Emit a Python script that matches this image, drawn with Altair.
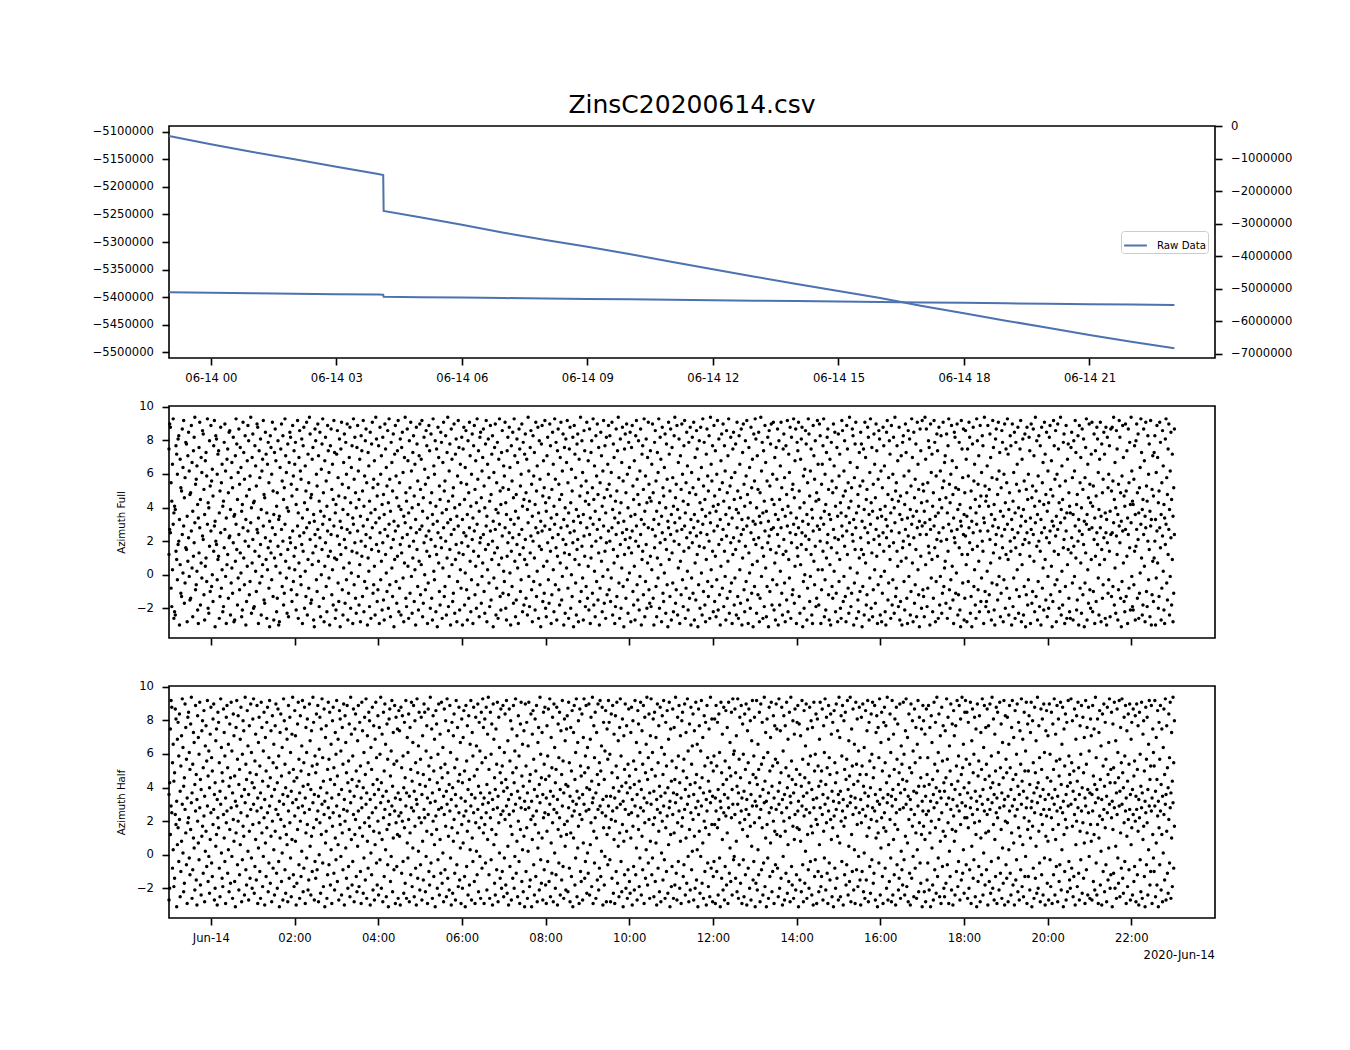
import math
import altair as alt
import pandas as pd

TITLE = "ZinsC20200614.csv"
SERIES = ["Raw Data"]
OFFSET_LABEL = ["2020-Jun-14"]

# Raw data line (hours relative to 2020-06-14 00:00)
LINE_HOURS = [-1, 0, 1, 2, 3, 4, 4.12, 4.13, 5, 6, 7, 8, 9, 10, 11, 12, 13, 14,
              15, 16, 17, 18, 19, 20, 21, 22, 23.03]
LINE_VALUES = [-5107300, -5122400, -5136400, -5149700, -5163000, -5176400, -5178200,
               -5243600, -5255000, -5268500, -5283000, -5296400, -5308500, -5321800,
               -5335800, -5349700, -5363000, -5376400, -5389000, -5401800, -5416400,
               -5429700, -5443000, -5455800, -5469100, -5481300, -5493300]

TOP_TICKS = [0, 3, 6, 9, 12, 15, 18, 21]
BOTTOM_TICKS = [0, 2, 4, 6, 8, 10, 12, 14, 16, 18, 20, 22]
LEFT_TICKS = [-5500000, -5450000, -5400000, -5350000, -5300000, -5250000, -5200000,
              -5150000, -5100000]
RIGHT_TICKS = [0, -1000000, -2000000, -3000000, -4000000, -5000000, -6000000, -7000000]
AZ_TICKS = [-2, 0, 2, 4, 6, 8, 10]

# Azimuth samples in tenths of a radian (-pi..pi), one per minute from 23:00;
# each one is drawn at its angle and again one turn (2*pi) higher.
AZ_FULL_TENTHS = [
12,27,25,-8,-19,3,30,-26,-22,-24,14,9,-3,18,20,-30,6,-11,-13,24,1,29,-17,-5,16,15,-28,8,22,-1,
-15,-14,26,4,-25,11,19,31,-9,-6,2,-21,-29,13,28,-18,7,-2,23,21,-12,-27,5,10,-4,30,-20,-23,17,-10,
26,-7,0,-16,14,29,-31,20,18,-3,9,11,-26,-13,25,-8,3,-22,-19,16,27,-1,-29,6,12,-14,22,23,-24,-5,
4,-11,19,-28,-27,8,30,15,-18,-2,24,-9,13,1,-25,-21,28,10,-6,20,-30,-16,5,26,17,-12,-4,31,-23,7,
21,-20,-19,14,2,-10,27,25,-29,11,-5,18,-24,-1,6,29,-15,-17,22,9,-26,3,16,-8,-31,20,13,-3,28,-13,
-27,10,24,5,-22,-14,17,-30,-28,1,12,27,-7,20,-18,-11,30,8,-2,-23,15,-25,4,22,19,-9,-16,26,-4,11,
3,16,-21,-12,29,-26,7,23,-1,-6,18,-29,14,25,-20,2,-13,28,-24,9,-8,31,21,-17,-15,6,13,-27,-31,24,
17,-3,-10,27,8,-19,22,-25,0,15,30,-14,-28,5,19,-7,-22,26,11,-2,-30,14,24,-12,3,-18,29,10,-26,-21,
9,23,-5,-16,18,-31,12,28,-9,-24,4,21,-17,16,-3,27,-27,-11,7,25,-20,1,14,-29,30,-6,19,-14,-23,13,
26,-1,-18,6,-28,20,11,-13,29,-22,-4,17,24,-8,-30,10,2,-19,22,-26,15,28,-11,-6,5,-24,31,18,-16,-9,
14,-29,25,-3,8,-21,19,-15,-27,27,12,1,-10,23,-20,30,-6,-25,16,4,-13,21,-31,9,26,-4,-17,11,29,-22,
-8,18,-24,13,22,-2,-28,7,31,-14,-19,24,5,-26,17,-11,28,-1,-23,10,20,-16,3,-30,25,15,-7,-21,8,27,
-12,6,29,-25,-17,19,0,-9,23,14,-29,-5,26,11,-20,21,-14,-27,30,2,-3,17,-22,12,-31,25,7,-10,-18,22,
16,-26,4,28,-13,-7,20,-24,10,31,-19,-1,15,-30,24,6,-16,-11,27,-23,9,18,-28,-4,29,13,-21,3,-8,19,
-30,12,25,-18,1,23,-9,-27,17,-14,28,8,-22,-3,21,-29,14,26,-12,5,-20,30,-6,11,-25,19,22,-17,-1,7,
24,-10,-23,15,29,-28,3,18,-5,-19,26,-15,9,20,-31,-2,13,27,-24,-8,16,-26,6,30,-13,-21,10,23,-11,2,
-4,28,-20,-27,11,19,-12,25,1,-30,14,-7,22,-17,30,8,-25,-15,18,4,-29,24,12,-10,-3,27,-22,16,-18,9,
21,-14,6,-24,31,-1,-19,13,23,-9,-28,20,-4,10,-21,28,-13,2,25,-26,17,-6,-31,15,26,-16,5,-11,29,-20,
-25,8,19,-3,-17,27,14,-29,-12,22,3,-22,30,-6,16,-27,11,24,-9,-18,7,28,-15,-1,21,-30,13,-23,18,4,
29,-8,-26,12,25,-20,0,-13,19,-31,26,9,-5,-24,15,21,-28,6,-16,31,-10,17,-2,-27,23,11,-19,-7,28,-14,
5,-21,24,-29,10,17,-11,30,-18,2,-25,20,-4,27,-15,13,-30,-8,22,8,-22,-1,29,-17,14,-26,19,-12,3,26,
-9,20,-16,-2,28,-24,15,7,-29,-19,24,-13,11,31,-5,-26,18,-20,4,25,-7,-31,12,21,-14,27,-3,-23,16,1,
22,-28,13,26,-10,-18,5,-27,20,29,-6,-15,17,-21,-1,24,-30,9,14,-12,30,-25,-4,18,-20,7,28,-9,-17,11,
-19,3,27,-14,-30,16,23,-7,-25,10,-2,30,-20,19,6,-28,25,-11,-16,1,21,-23,15,-6,-31,28,9,-13,24,-27,
13,-5,-22,20,31,-17,-9,26,-24,4,18,-29,8,-12,27,-3,-19,14,29,-26,-8,22,2,-21,16,-14,25,-30,-2,19,
-11,28,-27,7,-15,23,12,-31,-6,17,-20,25,1,-24,30,-10,16,-18,-28,9,24,-4,-13,20,-26,31,3,-7,14,-22,
26,-16,11,-25,-3,29,-21,18,-12,-30,5,21,-8,27,-19,14,-1,-27,23,-14,8,30,-23,-10,19,-5,-29,12,22,-18,
-2,15,-24,28,-13,-26,20,3,-17,24,-30,10,27,-9,-22,17,-4,29,-15,-29,13,1,-20,25,-11,6,-31,21,-7,30,
18,-23,8,-12,22,-28,-14,31,-1,16,-26,11,-19,26,4,-25,-7,19,-31,23,-10,15,27,-18,-3,28,-21,7,-27,13,
-6,24,-30,17,-18,2,28,-11,-24,12,21,-5,-28,14,-15,29,-22,9,-2,25,-26,19,-12,-9,30,-17,5,24,-29,16,
11,28,-13,-23,6,18,25,-31,-4,-20,0,23,15,-27,-8,30,21,-16,-1,12,-24,-29,26,8,-6,17,-19,-14,29,3,
-18,27,20,-29,-9,3,14,30,-25,-3,-21,10,19,24,-12,-27,6,-30,16,-7,-14,27,2,22,-22,-11,13,-28,21,-4,
9,-20,-26,29,23,-16,-1,17,-13,-28,26,12,-8,-23,31,4,-19,-11,24,20,-30,-5,15,28,-26,1,-15,-22,10,-10,
22,15,-31,-7,12,-24,28,7,-18,-12,25,19,-27,-2,30,-20,13,-25,-9,21,3,-17,27,11,-29,-6,23,18,-24,-1,
-28,-11,25,14,2,-22,-30,22,29,-15,-5,17,9,-26,26,-18,-3,19,-23,31,-13,-8,14,5,-19,25,-27,-16,8,-30,
16,20,-4,-21,27,10,-14,-29,23,-1,18,-24,-10,30,7,-28,22,-17,-6,15,-25,28,3,-12,-31,24,11,-20,29,-9,
-13,-25,31,6,24,-19,-8,17,13,-30,27,-2,9,-22,-14,29,16,-28,-4,21,11,-26,25,-18,-1,20,-23,-11,28,-7,
4,8,-17,21,-26,14,30,-9,-20,-3,26,5,-15,-29,22,19,-11,1,27,-24,-12,16,-21,-31,29,12,-5,24,-27,-14,
23,6,-28,12,-4,28,19,-23,-13,-31,15,25,-7,3,-18,-26,30,17,-9,8,-22,26,-16,-2,20,14,-29,31,-10,-19,
-16,2,26,-22,-12,21,7,-27,-5,29,13,-21,-30,18,24,-6,-15,28,-1,10,-25,-11,23,16,-28,-3,27,-20,12,-8,
30,9,-24,-14,20,14,-30,27,-19,-2,22,-26,16,-9,3,25,-23,-13,12,29,-28,6,18,-24,-7,21,-31,-12,25,-18,
-3,19,11,-29,27,-17,-10,24,8,-22,31,-13,17,-27,-4,20,-19,14,-30,25,-8,4,-21,28,9,-15,22,-25,-1,-20,
19,26,-12,5,-31,-16,29,14,-6,23,-28,-3,27,12,-20,-10,31,-24,2,-18,16,21,-29,-7,26,-26,6,15,-14,-22,
-26,13,22,-5,-27,17,-1,29,10,-21,-15,20,-30,26,-8,7,-23,24,-12,18,-31,-5,13,30,-27,3,-17,27,-9,-20,
9,28,-22,-10,21,-29,11,-16,25,18,-2,-24,6,28,-28,15,-14,-6,22,9,-26,25,-30,19,-11,-3,14,-25,24,-13,
25,-7,31,-18,4,-23,23,12,-27,-9,29,19,-14,-31,-4,26,7,-16,-22,27,-13,11,-29,24,-8,16,-21,31,-1,-19,
-21,-6,14,-27,17,27,-14,21,-26,-11,1,30,10,-24,-18,24,5,-28,28,-10,-19,20,-3,15,-25,29,-30,-12,8,-16,
10,20,-30,-2,26,7,-20,-13,28,16,-27,-8,23,2,-21,-29,18,30,-5,-15,12,27,-24,-1,22,-18,9,-28,-11,24,
]

AZ_HALF_TENTHS = [
-27,-20,12,29,25,-8,3,-19,-14,24,18,-31,6,16,-4,21,-25,-10,8,30,1,-22,-17,27,13,-6,-29,19,22,-2,
-12,15,31,-26,-9,10,4,-21,26,-15,-30,20,7,-3,28,-18,-24,11,17,-11,23,-28,2,14,-7,29,-16,-1,-23,9,
25,-5,-13,18,27,-27,-20,5,12,-30,22,16,-8,-25,30,1,-14,-19,24,10,-4,-29,19,26,-11,3,-22,15,-17,28,
-1,-26,21,8,-16,-31,13,29,-6,20,-21,-12,6,25,-28,-3,17,11,-24,31,-9,-18,23,2,-27,14,-14,27,-2,-20,
18,30,-23,-7,9,-15,26,-29,4,19,-10,-26,28,13,-19,-1,22,-30,7,-13,16,25,-22,-5,29,-17,11,-28,20,-8,
3,-24,14,27,-11,-20,24,-4,-31,10,21,-16,1,-27,30,17,-9,-23,12,6,-28,26,-14,19,-2,-25,9,31,-12,-19,
23,8,-30,-17,15,28,-6,-26,20,-13,2,29,-22,-8,25,-29,13,-2,18,-21,-15,27,5,-24,11,-10,31,16,-27,-4,
-14,21,-9,26,-28,0,19,-23,12,30,-5,-19,24,-31,7,14,-26,-12,28,-6,22,-18,3,-29,17,25,-11,-21,10,-3,
29,-16,6,-27,23,18,-1,-24,13,-9,27,-30,20,4,-14,26,-20,-7,15,-25,31,9,-18,-4,24,-28,12,21,-13,-22,
5,26,-19,16,-10,-29,28,11,-23,-2,19,-15,30,-26,8,-8,22,17,-30,1,-12,25,-21,14,-27,6,28,-5,-18,20,
-24,13,-3,31,-20,9,-28,22,-13,27,3,-25,15,-6,-31,18,24,-16,-1,29,-22,10,-9,26,-29,19,-7,12,-26,23,
11,-30,25,-11,20,-4,-23,16,-17,29,-26,7,-2,21,-28,13,-12,28,-19,4,26,-25,17,-8,-30,30,-14,2,22,-21,
-6,19,-27,8,-15,27,22,-22,-1,14,-29,24,-10,-18,31,-5,12,-26,20,-13,6,-31,23,15,-20,-3,27,-24,9,-11,
28,-17,1,-28,24,-9,17,-25,30,-14,11,-21,26,-2,-30,16,-23,8,21,-11,-27,29,-6,13,-19,25,-15,4,-29,18,
-20,7,23,-13,-31,26,-7,14,-24,20,-18,3,29,-27,10,-4,25,-16,-29,19,2,-12,27,-22,16,-1,-26,22,-8,30,
13,-29,18,-5,25,-21,9,31,-12,-26,22,-3,15,-30,27,6,-17,-24,12,-9,28,-28,19,1,-14,24,-20,-10,26,-25,
-2,21,-18,29,-23,5,-30,24,-7,17,-27,12,-14,26,-20,-1,30,-11,8,-25,20,-4,-29,15,28,-16,3,-22,11,-31,
27,-10,16,-26,2,28,-19,-15,21,-31,9,23,-6,-24,18,-13,26,-28,4,13,-21,31,-3,-17,10,-27,22,-9,25,-18,
-29,14,-4,24,-16,30,-25,7,-11,19,-28,27,1,-20,-12,25,-30,15,-5,22,-24,11,-15,29,-7,-26,18,5,-21,12,
20,-22,28,-8,-28,13,-13,23,-31,10,26,-18,-2,30,-25,4,17,-29,24,-10,-16,21,-27,7,30,-14,-4,26,-23,1,
-11,27,-24,6,19,-19,31,-29,14,-5,22,-26,10,-15,27,-21,-8,29,-13,2,25,-30,16,-18,-1,23,-28,12,-6,29,
16,-3,-28,21,-14,26,-23,9,-29,20,-10,28,-17,5,-25,13,30,-4,-22,18,-31,8,-12,27,-20,14,-26,-9,24,-16,
-23,10,25,-30,17,-7,-21,29,-12,4,-27,23,15,-19,-2,28,-24,11,-9,26,-29,19,-14,3,31,-18,-5,21,-26,8,
30,-12,-2,18,-25,22,-16,7,-30,27,-8,14,-22,25,-28,1,20,-15,29,-3,-26,16,-10,23,-23,6,28,-31,12,-19,
-7,24,-26,13,-18,31,-11,-27,19,-4,26,-20,8,-29,17,22,-13,-6,27,-24,10,-17,30,-1,-28,15,-21,25,-9,2,
21,-27,11,-20,28,-15,3,-31,24,14,-23,-1,29,-17,7,-26,20,-10,16,-30,26,-5,-19,12,-25,31,-8,18,-28,-13,
-4,18,-29,26,-10,16,-24,21,-2,-31,28,-14,9,-21,25,-27,-7,23,-18,13,-29,28,-11,4,-16,22,-24,30,-3,-1,
24,-14,8,-22,30,-26,-6,19,-17,26,-29,15,-3,-25,21,-12,27,-30,11,-8,24,-20,17,-27,5,29,-15,-4,19,-31,
-17,29,-21,3,-12,22,-28,27,-9,16,-24,-5,31,-19,10,-31,18,-2,-26,25,-13,7,28,-22,-10,20,-29,14,-6,27,
12,-8,-25,30,-20,11,-14,25,-30,-1,20,-27,14,-11,28,-23,6,-16,22,-28,31,-7,-18,17,-26,9,24,-21,-12,16,
26,-31,15,-15,8,-22,29,-6,-28,23,-17,2,27,-26,12,-9,-20,25,-4,17,-24,13,-30,28,-13,-3,21,-29,18,-10,
-22,6,28,-19,-13,24,-27,14,-2,30,-21,19,-11,-29,26,-5,-15,21,9,-25,16,-31,23,-8,-20,27,-14,11,-27,31,
7,-25,20,-4,26,-30,17,-12,22,-18,-6,29,-24,5,-16,31,-28,12,-10,24,-21,3,-29,28,-9,18,-19,-1,25,-15,
-30,19,-10,27,-22,1,-26,23,-15,11,29,-28,16,-7,-23,21,-3,28,-17,-11,26,-27,10,20,-31,13,-5,30,-24,4,
22,-13,-29,16,25,-8,14,-20,31,-27,6,-16,21,-2,-28,29,-24,9,-12,18,-30,25,-6,15,-21,-14,27,-26,2,-9,
-18,28,-3,-24,11,30,-19,7,-28,21,-11,-30,27,-14,17,-1,-25,24,-8,13,-26,3,29,-22,19,-5,-17,12,-31,26,
17,-22,9,-28,24,-15,-5,26,-21,13,-31,20,4,-18,-27,28,-9,16,-23,31,-13,-2,21,-25,8,-29,25,-7,14,-20,
-25,11,-17,30,-6,19,-29,2,-13,27,-21,15,-30,23,8,-24,14,-10,29,-19,-4,26,-27,18,-15,31,-11,3,-23,22,
29,-6,22,-26,16,-20,-9,28,-29,5,24,-14,-3,19,-25,12,-31,27,-16,-7,20,-28,10,-12,30,-24,1,26,-18,13,
-9,24,-30,14,-16,27,-23,-4,31,-20,18,-27,9,-13,25,-29,22,-2,-21,28,-11,15,-26,4,-17,29,-30,20,-6,-14,
19,-28,3,26,-11,-24,13,29,-18,7,-30,23,-15,-3,27,-22,16,-27,11,-9,30,-19,6,-25,22,-13,-1,28,-29,15,
-13,20,-21,10,28,-31,17,-8,-26,25,-14,5,-23,31,-20,14,-5,-28,24,-12,18,-24,27,-2,-30,11,23,-17,8,-27,
27,-3,-19,22,-29,15,-12,30,-24,9,-7,26,-28,18,-16,-6,28,-21,3,25,-31,12,-10,21,-27,16,-22,29,-4,-15,
-20,30,-8,17,-25,-13,24,-30,6,20,-19,28,-11,-27,14,-3,26,-23,19,-14,7,-29,29,-9,13,-24,25,-1,-26,18,
8,-27,26,-16,12,-21,31,-5,-24,18,-29,10,23,-18,2,-30,21,-10,27,-22,16,-6,-28,25,-15,4,30,-20,-12,22,
-31,15,-11,28,-20,5,-26,24,-2,-17,29,-25,13,-8,30,-14,-23,19,-4,26,-29,11,-19,21,-9,27,-27,6,16,-24,
24,-16,-7,20,-28,27,-12,14,-30,22,-3,-22,28,-26,9,17,-13,-31,25,-6,19,-24,3,29,-18,-10,26,-29,12,-2,
-10,29,-25,7,-18,23,-31,16,-6,26,-21,12,-28,1,24,-15,30,-27,14,-11,-23,21,-5,28,-26,10,-19,31,-8,17,
]

START_H, END_H = -1.0, 23.03
BLUE = "#4c72b0"
W, H = 1046, 232
FONT = "DejaVu Sans"
TURN = 2 * math.pi


def sample_hours(n):
    return [START_H + (END_H - START_H) * i / (n - 1) for i in range(n)]


def azimuth_frame(tenths):
    hours = sample_hours(len(tenths))
    base = [v / 10 for v in tenths]
    return pd.DataFrame({"h": hours + hours,
                         "az": base + [b + TURN for b in base]})


line_df = pd.DataFrame({"h": LINE_HOURS, "v": LINE_VALUES, "series": SERIES[0]})
full_df = azimuth_frame(AZ_FULL_TENTHS)
half_df = azimuth_frame(AZ_HALF_TENTHS)
label_df = pd.DataFrame({"t": OFFSET_LABEL})

xscale = alt.Scale(domain=[-1, 24], nice=False, zero=False)
top_label = "'06-14 ' + (datum.value < 10 ? '0' : '') + datum.value"
bot_label = "datum.value == 0 ? 'Jun-14' : (datum.value < 10 ? '0' : '') + datum.value + ':00'"

x_top = alt.X("h:Q", scale=xscale, axis=alt.Axis(values=TOP_TICKS, labelExpr=top_label, title=None))
x_mid = alt.X("h:Q", scale=xscale, axis=alt.Axis(values=BOTTOM_TICKS, labelExpr=bot_label,
                                                  labelColor="transparent", title=None))
x_bot = alt.X("h:Q", scale=xscale, axis=alt.Axis(values=BOTTOM_TICKS, labelExpr=bot_label, title=None))

color = alt.Color("series:N", scale=alt.Scale(range=[BLUE]),
                  legend=alt.Legend(title=None, orient="none", legendX=952, legendY=105,
                                    symbolType="stroke", symbolSize=515, symbolStrokeWidth=2,
                                    labelFont=FONT, labelFontSize=10.2, labelColor="black",
                                    strokeColor="#cccccc", fillColor="white", padding=2,
                                    cornerRadius=3, labelOffset=9))

left_line = alt.Chart(line_df).mark_line(strokeWidth=2).encode(
    x=x_top,
    y=alt.Y("v:Q", scale=alt.Scale(domain=[-5510900, -5089100], nice=False, zero=False),
            axis=alt.Axis(values=LEFT_TICKS, format="d", orient="left", title=None)),
    color=color,
)
right_line = alt.Chart(line_df).mark_line(strokeWidth=2).encode(
    x=x_top,
    y=alt.Y("v:Q", scale=alt.Scale(domain=[-7123000, 0], nice=False, zero=False),
            axis=alt.Axis(values=RIGHT_TICKS, format="d", orient="right", title=None)),
    color=color,
)
top = alt.layer(left_line, right_line).resolve_scale(y="independent").properties(
    width=W, height=H,
    title=alt.TitleParams(TITLE, anchor="middle", frame="group", baseline="alphabetic", offset=-18),
)

yscale = alt.Scale(domain=[-3.77, 10.05], nice=False, zero=False)

mid = alt.Chart(full_df).mark_point(filled=True, size=12, color="black", opacity=1).encode(
    x=x_mid,
    y=alt.Y("az:Q", scale=yscale, axis=alt.Axis(values=AZ_TICKS, format="d", title="Azimuth Full")),
).properties(width=W, height=H)

bot_pts = alt.Chart(half_df).mark_point(filled=True, size=12, color="black", opacity=1).encode(
    x=x_bot,
    y=alt.Y("az:Q", scale=yscale, axis=alt.Axis(values=AZ_TICKS, format="d", title="Azimuth Half")),
)
bot_txt = alt.Chart(label_df).mark_text(align="right", baseline="alphabetic", font=FONT,
                                        fontSize=11.6, color="black").encode(
    text="t:N", x=alt.value(W), y=alt.value(273))
bot = alt.layer(bot_pts, bot_txt).properties(width=W, height=H)

chart = alt.vconcat(top, mid, bot, spacing=15).resolve_scale(color="independent").properties(
    padding={"left": 83, "top": 84, "right": 10, "bottom": 10},
    background="white",
).configure_view(stroke="black", strokeWidth=1.6).configure_axis(
    labelFont=FONT, labelFontSize=11.6, labelColor="black",
    tickColor="black", tickWidth=1.6, tickSize=7, domain=False, grid=False,
    titleFont=FONT, titleFontSize=10.2, titleFontWeight="normal", titleColor="black",
    titlePadding=10,
).configure_axisX(labelPadding=7.5).configure_axisY(labelPadding=8.5).configure_title(
    font=FONT, fontSize=25, fontWeight="normal", color="black")

chart.save("out.html", embed_options={"renderer": "svg", "actions": False})
